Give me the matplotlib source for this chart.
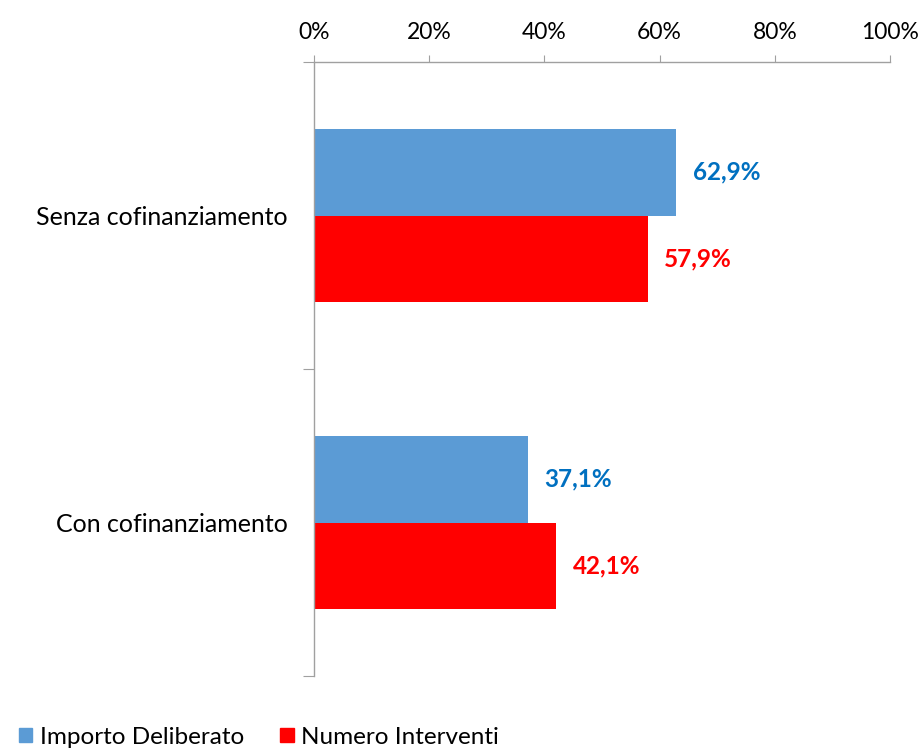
import matplotlib
matplotlib.use("Agg")
import matplotlib.pyplot as plt
from matplotlib.patches import Patch
from matplotlib.ticker import FixedLocator

plt.rcParams['font.family'] = ['Lato', 'DejaVu Sans']

categories = ["Con cofinanziamento", "Senza cofinanziamento"]
importo = [37.1, 62.9]
numero = [42.1, 57.9]
series_names = ["Importo Deliberato", "Numero Interventi"]
xticks = [0, 20, 40, 60, 80, 100]
xtick_labels = ["0%", "20%", "40%", "60%", "80%", "100%"]

blue = "#5B9BD5"
red = "#FF0000"
blue_lbl = "#0070C0"
red_lbl = "#FF0000"

fig = plt.figure(figsize=(9.23, 7.56), dpi=100)
ax = fig.add_axes([314/923, 1-676/756, 576/923, 614/756])

h = 0.283
pos = [0.5, 1.5]
ax.barh([p + h/2 for p in pos], importo, height=h, color=blue, label=series_names[0])
ax.barh([p - h/2 for p in pos], numero, height=h, color=red, label=series_names[1])

for p, v in zip(pos, importo):
    ax.annotate(f"{v:.1f}%".replace('.', ','), (v, p + h/2), xytext=(12, 0),
                textcoords='offset points', ha='left', va='center',
                fontsize=17.5, fontweight='bold', color=blue_lbl)
for p, v in zip(pos, numero):
    ax.annotate(f"{v:.1f}%".replace('.', ','), (v, p - h/2), xytext=(12, 0),
                textcoords='offset points', ha='left', va='center',
                fontsize=17.5, fontweight='bold', color=red_lbl)

ax.set_xlim(0, 100)
ax.set_ylim(0, 2)
ax.xaxis.tick_top()
ax.set_xticks(xticks)
ax.set_xticklabels(xtick_labels, fontsize=16.5)
ax.tick_params(axis='x', direction='out', length=5, color='#A0A0A0', pad=9)

ax.yaxis.set_major_locator(FixedLocator([0, 1, 2]))
ax.set_yticklabels([])
ax.tick_params(axis='y', which='major', direction='out', length=8, color='#A0A0A0')
ax.set_yticks(pos, minor=True)
ax.set_yticklabels(categories, minor=True, fontsize=18)
ax.tick_params(axis='y', which='minor', length=0, pad=19)

for s in ['right', 'bottom']:
    ax.spines[s].set_visible(False)
for s in ['top', 'left']:
    ax.spines[s].set_color('#A0A0A0')
    ax.spines[s].set_linewidth(1.0)

handles = [Patch(color=blue, label=series_names[0]), Patch(color=red, label=series_names[1])]
fig.legend(handles=handles, loc='lower left', bbox_to_anchor=(-0.003, -0.018), ncol=2,
           frameon=False, fontsize=17.5, handlelength=0.55, handleheight=0.55,
           handletextpad=0.3, columnspacing=1.5)

fig.savefig("out.png", dpi=100)
